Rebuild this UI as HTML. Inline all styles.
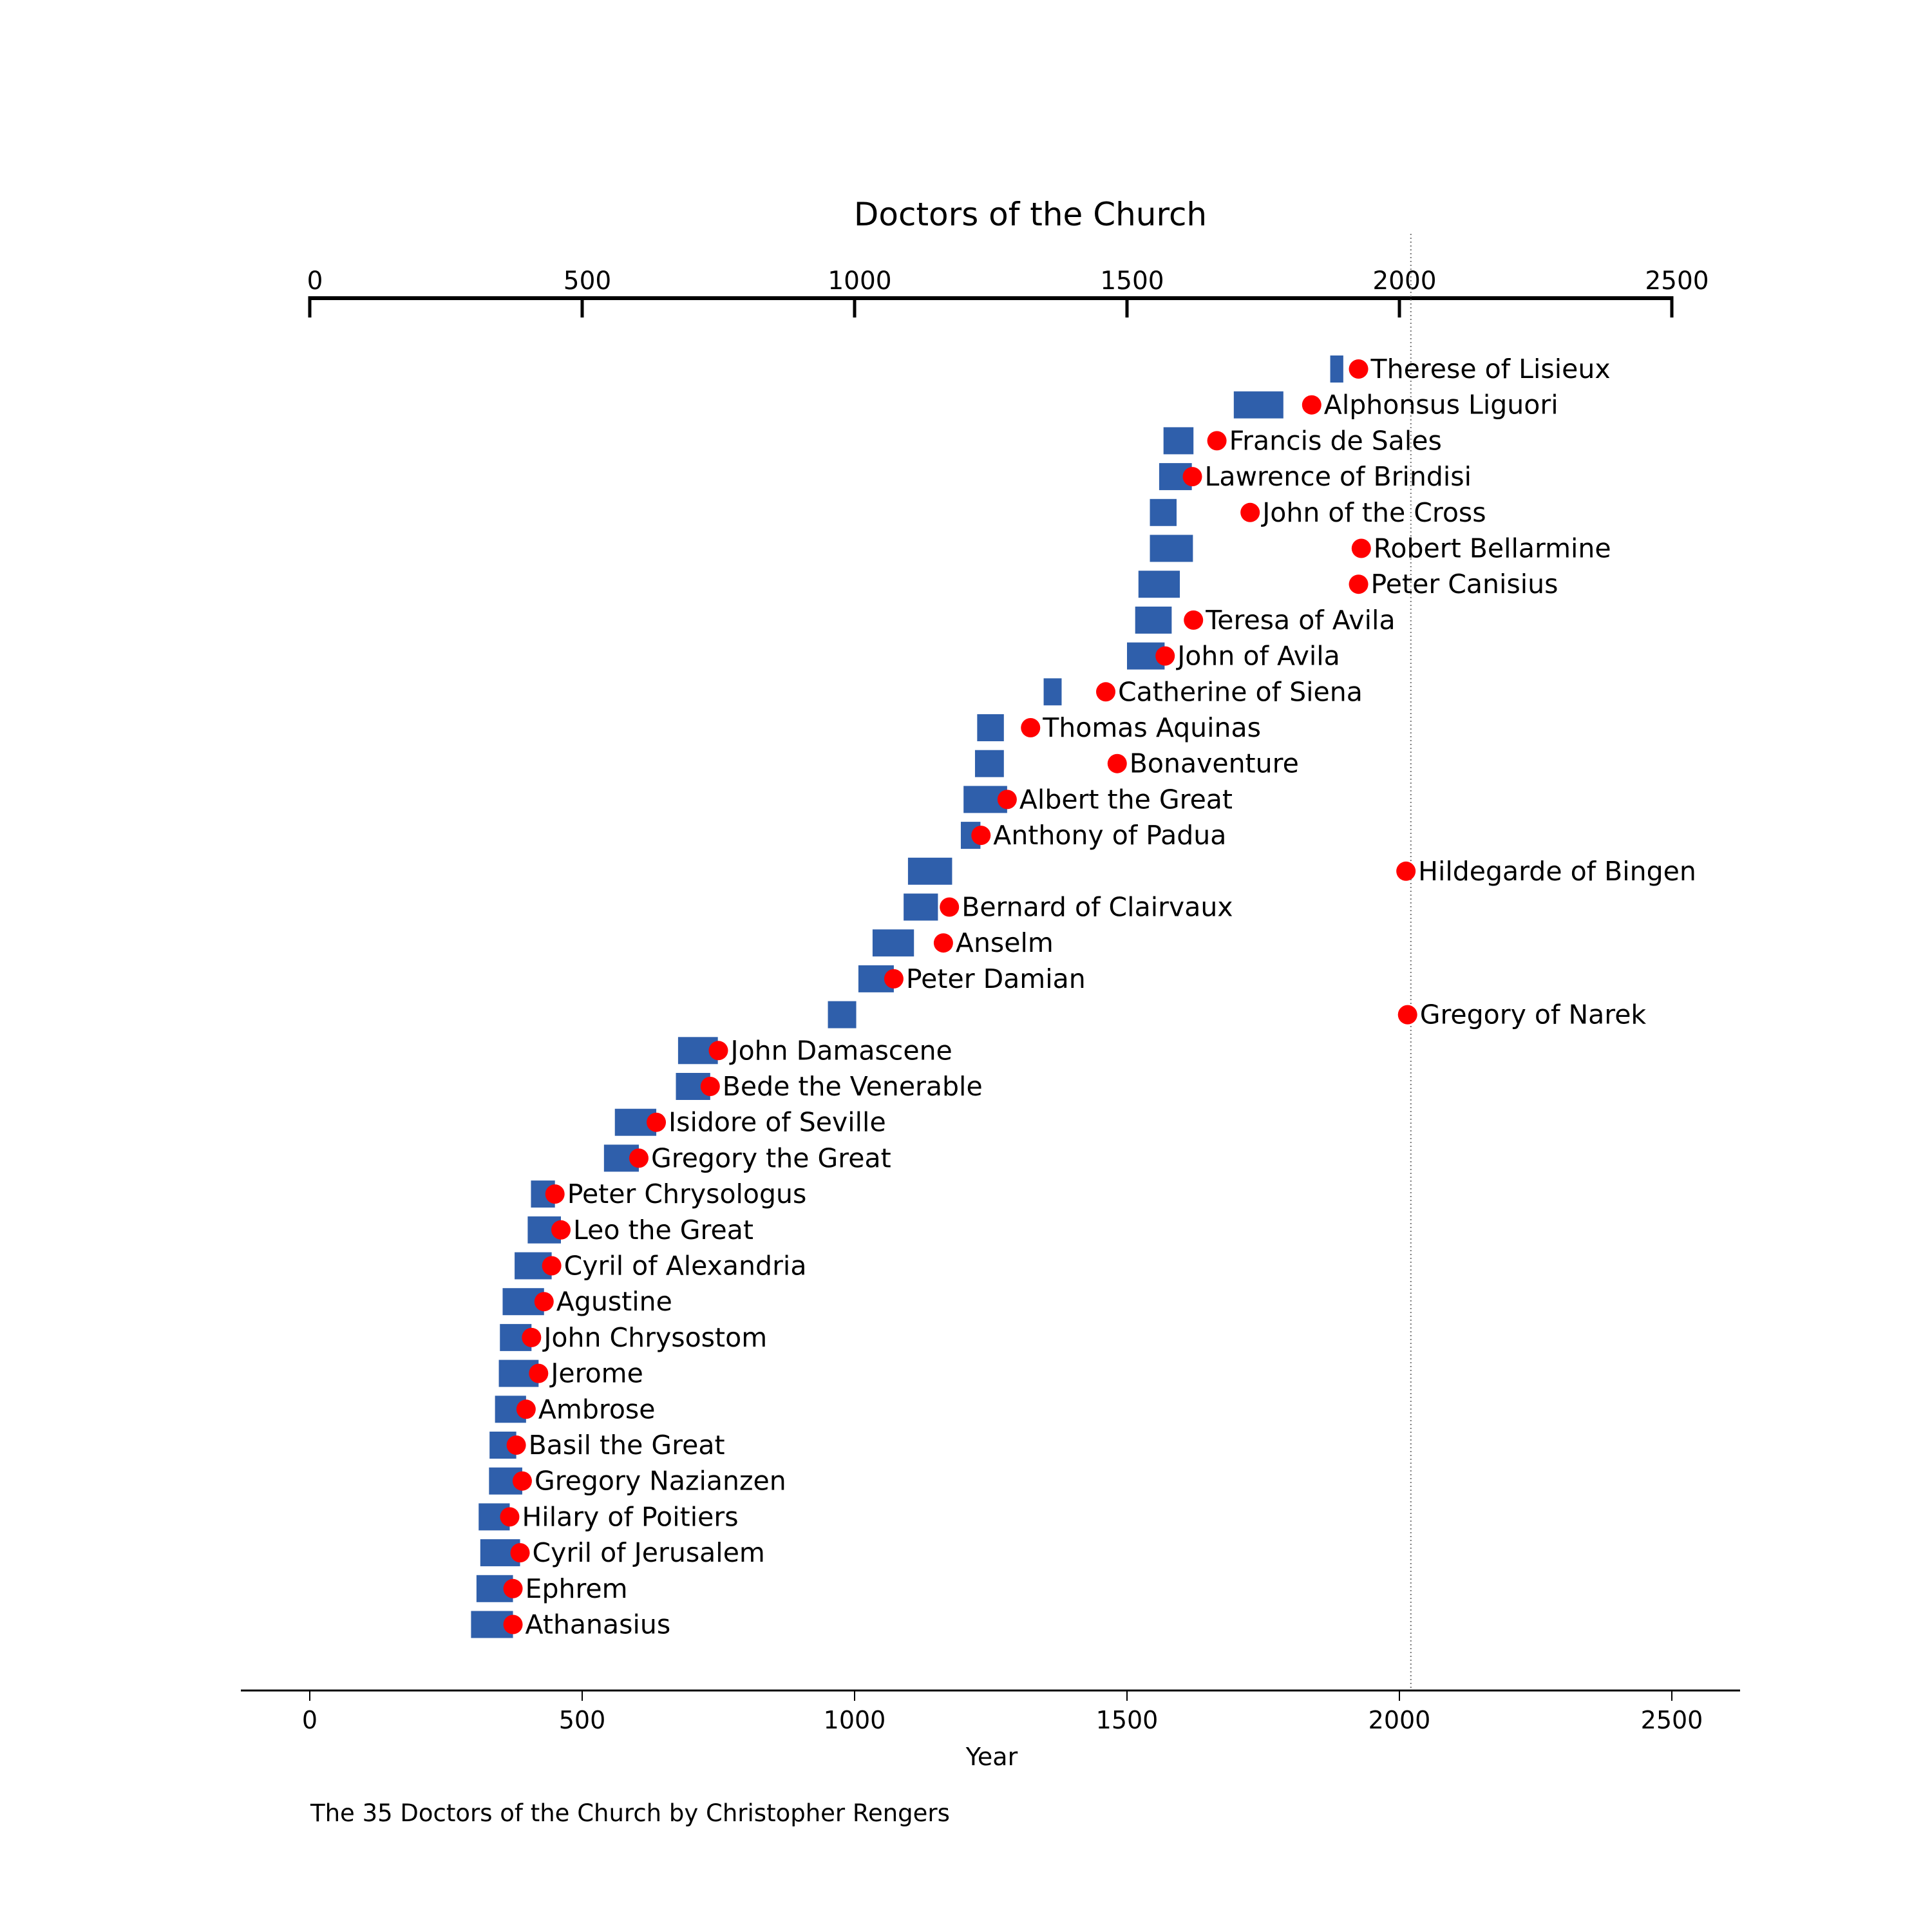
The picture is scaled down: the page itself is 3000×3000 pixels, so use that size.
<!DOCTYPE html>
<html><head><meta charset="utf-8"><style>
html,body{margin:0;padding:0;background:#fff;}
svg{display:block;font-family:"DejaVu Sans","Liberation Sans",sans-serif;}
</style></head><body>
<svg id="chart" width="3000" height="3000" viewBox="0 0 3000 3000" xmlns="http://www.w3.org/2000/svg">
<rect width="3000" height="3000" fill="#fff"/>
<text x="1600" y="350" font-size="50" text-anchor="middle">Doctors of the Church</text>
<g id="top-axis"></g>
<g id="bottom-axis"></g>
<g id="marks"></g>
<text x="1540" y="2741" font-size="38" text-anchor="middle">Year</text>
<text x="482" y="2828" font-size="37">The 35 Doctors of the Church by Christopher Rengers</text>
</svg>
<script>
const names = ["Therese of Lisieux","Alphonsus Liguori","Francis de Sales","Lawrence of Brindisi","John of the Cross","Robert Bellarmine","Peter Canisius","Teresa of Avila","John of Avila","Catherine of Siena","Thomas Aquinas","Bonaventure","Albert the Great","Anthony of Padua","Hildegarde of Bingen","Bernard of Clairvaux","Anselm","Peter Damian","Gregory of Narek","John Damascene","Bede the Venerable","Isidore of Seville","Gregory the Great","Peter Chrysologus","Leo the Great","Cyril of Alexandria","Agustine","John Chrysostom","Jerome","Ambrose","Basil the Great","Gregory Nazianzen","Hilary of Poitiers","Cyril of Jerusalem","Ephrem","Athanasius"];
const born = [1873,1696,1567,1559,1542,1542,1521,1515,1500,1347,1225,1221,1200,1195,1098,1090,1033,1007,951,676,672,560,540,406,400,376,354,349,347,340,330,329,310,313,306,296];
const died = [1897,1787,1622,1619,1591,1621,1597,1582,1569,1380,1274,1274,1280,1231,1179,1153,1109,1072,1003,749,735,636,604,450,461,444,430,407,420,397,379,390,367,386,373,373];
const marked = [1925,1839,1665,1620,1726,1930,1925,1622,1570,1461,1323,1482,1280,1232,2012,1174,1163,1072,2015,750,735,636,604,450,461,444,430,407,420,397,379,390,367,386,373,373];
const ticks = [0,500,1000,1500,2000,2500];
const refYear = 2021;

const NS = "http://www.w3.org/2000/svg";
function x(v){ return 481 + v * 0.846; }
function y(i){ return 573 + i * 55.7; }
function mk(tag, attrs, parent){
  const e = document.createElementNS(NS, tag);
  for (const k in attrs) e.setAttribute(k, attrs[k]);
  parent.appendChild(e);
  return e;
}
const topAx = document.getElementById('top-axis');
const botAx = document.getElementById('bottom-axis');
const marksG = document.getElementById('marks');

mk('line', {x1: x(0)-2.5, x2: x(2500)+2.5, y1: 463, y2: 463, stroke: '#000', 'stroke-width': 6}, topAx);
mk('line', {x1: 374, x2: 2702, y1: 2625, y2: 2625, stroke: '#000', 'stroke-width': 3}, botAx);
ticks.forEach(t => {
  const tl = mk('line', {x1: x(t), x2: x(t), y1: 463, y2: 493, stroke: '#000', 'stroke-width': 5}, topAx);
  
  
  const tt = mk('text', {x: x(t) + 8, y: 449, 'font-size': 39, 'text-anchor': 'middle'}, topAx);
  tt.textContent = t;
  
  
  const bl = mk('line', {x1: x(t), x2: x(t), y1: 2625, y2: 2641, stroke: '#000', 'stroke-width': 2}, botAx);
  
  
  const bt = mk('text', {x: x(t), y: 2684, 'font-size': 38, 'text-anchor': 'middle'}, botAx);
  bt.textContent = t;
  
  
});
const ref = mk('line', {x1: x(refYear), x2: x(refYear), y1: 363, y2: 2624, stroke: '#777', 'stroke-width': 2, 'stroke-dasharray': '2,4'}, marksG);



names.forEach((n, i) => {
  const cy = y(i);
  const bar = mk('rect', {x: x(born[i]), y: cy - 21, width: x(died[i]) - x(born[i]), height: 42, fill: '#2f5fab'}, marksG);
  
  
  const dot = mk('circle', {cx: x(marked[i]), cy: cy, r: 15, fill: '#ff0000'}, marksG);
  
  
  const lab = mk('text', {x: x(marked[i]) + 19, y: cy + 14, 'font-size': 41}, marksG);
  lab.textContent = n;
  
  
});
</script>
</body></html>
